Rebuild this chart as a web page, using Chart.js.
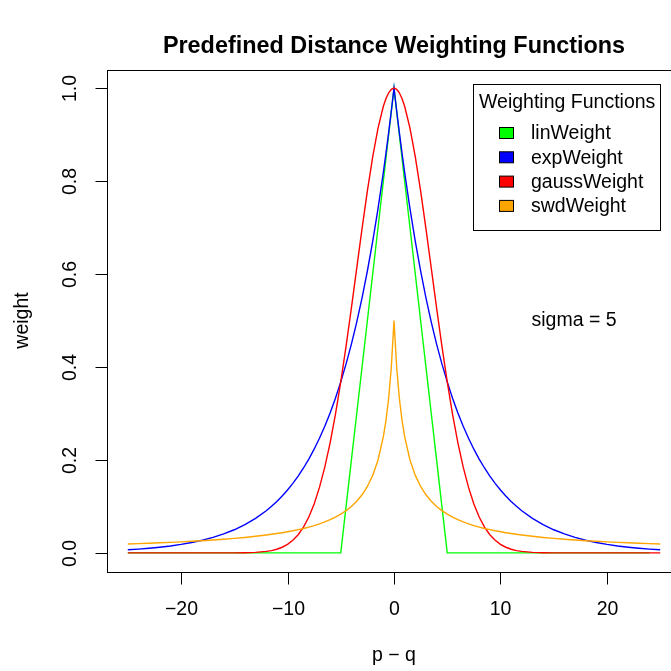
<!DOCTYPE html>
<html>
<head>
<meta charset="utf-8">
<script src="https://cdn.jsdelivr.net/npm/chart.js@4"></script>
<style>
  html, body { margin: 0; padding: 0; background: #fff; overflow: hidden; }
  #wrap { width: 700px; height: 671px; }
</style>
</head>
<body>
<div id="wrap"><canvas id="weightChart" width="700" height="671"></canvas></div>
<script>
// distance p - q
var xs = [-25,-24,-23,-22,-21,-20,-19,-18,-17,-16,-15,-14,-13,-12,-11.5,-11,-10.5,-10,-9.5,-9,-8.5,-8,-7.5,-7,-6.5,-6,-5.5,
  -5,-4.5,-4,-3.5,-3,-2.5,-2,-1.5,-1,-0.75,-0.5,-0.25,0,0.25,0.5,0.75,1,1.5,2,2.5,3,3.5,4,4.5,5,
  5.5,6,6.5,7,7.5,8,8.5,9,9.5,10,10.5,11,11.5,12,13,14,15,16,17,18,19,20,21,22,23,24,25];

var linWeight = [0,0,0,0,0,0,0,0,0,0,0,0,0,0,0,0,0,0,0,0,0,0,0,0,0,0,0,
  0,0.1,0.2,0.3,0.4,0.5,0.6,0.7,0.8,0.85,0.9,0.95,1,0.95,0.9,0.85,0.8,0.7,0.6,0.5,0.4,0.3,0.2,0.1,0,
  0,0,0,0,0,0,0,0,0,0,0,0,0,0,0,0,0,0,0,0,0,0,0,0,0,0];

var expWeight = [0.0067,0.0082,0.0101,0.0123,0.0150,0.0183,0.0224,0.0273,0.0334,0.0408,0.0498,0.0608,0.0743,0.0907,0.1003,0.1108,0.1225,0.1353,0.1496,0.1653,0.1827,0.2019,0.2231,0.2466,0.2725,0.3012,0.3329,
  0.3679,0.4066,0.4493,0.4966,0.5488,0.6065,0.6703,0.7408,0.8187,0.8607,0.9048,0.9512,1,0.9512,0.9048,0.8607,0.8187,0.7408,0.6703,0.6065,0.5488,0.4966,0.4493,0.4066,0.3679,
  0.3329,0.3012,0.2725,0.2466,0.2231,0.2019,0.1827,0.1653,0.1496,0.1353,0.1225,0.1108,0.1003,0.0907,0.0743,0.0608,0.0498,0.0408,0.0334,0.0273,0.0224,0.0183,0.0150,0.0123,0.0101,0.0082,0.0067];

var gaussWeight = [0,0,0,0,0,0,0,0,0,0,0,0.0004,0.0012,0.0032,0.0050,0.0079,0.0122,0.0183,0.0271,0.0392,0.0556,0.0773,0.1054,0.1409,0.1845,0.2369,0.2982,
  0.3679,0.4449,0.5273,0.6126,0.6977,0.7788,0.8521,0.9139,0.9608,0.9778,0.99,0.9975,1,0.9975,0.99,0.9778,0.9608,0.9139,0.8521,0.7788,0.6977,0.6126,0.5273,0.4449,0.3679,
  0.2982,0.2369,0.1845,0.1409,0.1054,0.0773,0.0556,0.0392,0.0271,0.0183,0.0122,0.0079,0.0050,0.0032,0.0012,0.0004,0,0,0,0,0,0,0,0,0,0,0];

var swdWeight = [0.0192,0.02,0.0208,0.0217,0.0227,0.0238,0.025,0.0263,0.0278,0.0294,0.0313,0.0333,0.0357,0.0385,0.04,0.0417,0.0435,0.0455,0.0476,0.05,0.0526,0.0556,0.0588,0.0625,0.0667,0.0714,0.0769,
  0.0833,0.0909,0.1,0.1111,0.125,0.1429,0.1667,0.2,0.25,0.2857,0.3333,0.4,0.5,0.4,0.3333,0.2857,0.25,0.2,0.1667,0.1429,0.125,0.1111,0.1,0.0909,0.0833,
  0.0769,0.0714,0.0667,0.0625,0.0588,0.0556,0.0526,0.05,0.0476,0.0455,0.0435,0.0417,0.04,0.0385,0.0357,0.0333,0.0313,0.0294,0.0278,0.0263,0.025,0.0238,0.0227,0.0217,0.0208,0.02,0.0192];

var seriesNames = ["linWeight", "expWeight", "gaussWeight", "swdWeight"];
var seriesColors = ["#00ff00", "#0000ff", "#ff0000", "#ffa500"];

var xTicks = [-20, -10, 0, 10, 20];
var xTickLabels = ["\u221220", "\u221210", "0", "10", "20"];
var yTicks = [0, 0.2, 0.4, 0.6, 0.8, 1.0];
var yTickLabels = ["0.0", "0.2", "0.4", "0.6", "0.8", "1.0"];

var FONT = '"Liberation Sans", Arial, Helvetica, sans-serif';

function pts(ys) {
  return xs.map(function (x, i) { return { x: x, y: ys[i] }; });
}

// R style axes, box, labels and legend
var baseGraphics = {
  id: 'baseGraphics',
  afterDraw: function (chart) {
    var ctx = chart.ctx;
    var a = chart.chartArea;
    var sx = chart.scales.x, sy = chart.scales.y;
    ctx.save();
    ctx.strokeStyle = '#000';
    ctx.fillStyle = '#000';
    ctx.lineWidth = 1;

    // box
    ctx.strokeRect(Math.round(a.left) + 0.5, Math.round(a.top) + 0.5,
      Math.round(a.right - a.left), Math.round(a.bottom - a.top));

    // x axis ticks
    var by = Math.round(a.bottom) + 0.5;
    ctx.font = '19.5px ' + FONT;
    ctx.textAlign = 'center';
    ctx.textBaseline = 'middle';
    xTicks.forEach(function (v, i) {
      var px = Math.round(sx.getPixelForValue(v)) + 0.5;
      ctx.beginPath();
      ctx.moveTo(px, by);
      ctx.lineTo(px, by + 12);
      ctx.stroke();
      ctx.fillText(xTickLabels[i], px, by + 37);
    });

    // y axis ticks, rotated labels
    var lx = Math.round(a.left) + 0.5;
    yTicks.forEach(function (v, i) {
      var py = Math.round(sy.getPixelForValue(v)) + 0.5;
      ctx.beginPath();
      ctx.moveTo(lx, py);
      ctx.lineTo(lx - 12, py);
      ctx.stroke();
      ctx.save();
      ctx.translate(lx - 37, py);
      ctx.rotate(-Math.PI / 2);
      ctx.fillText(yTickLabels[i], 0, 0);
      ctx.restore();
    });

    // axis titles
    var cx = (a.left + a.right) / 2;
    var cy = (a.top + a.bottom) / 2;
    ctx.fillText("p \u2212 q", cx, 656);
    ctx.save();
    ctx.translate(23, cy);
    ctx.rotate(-Math.PI / 2);
    ctx.fillText("weight", 0, 0);
    ctx.restore();

    // main title
    ctx.font = 'bold 23.4px ' + FONT;
    ctx.fillText("Predefined Distance Weighting Functions", cx, 47);

    // note
    ctx.font = '19.5px ' + FONT;
    ctx.fillText("sigma = 5", 574, 321);

    // legend
    ctx.fillStyle = '#fff';
    ctx.fillRect(473.5, 84.5, 187, 146);
    ctx.strokeRect(473.5, 84.5, 187, 146);
    ctx.fillStyle = '#000';
    ctx.textAlign = 'left';
    ctx.fillText("Weighting Functions", 479, 103);
    seriesNames.forEach(function (name, i) {
      var ry = 133 + i * 24.3;
      ctx.fillStyle = seriesColors[i];
      ctx.fillRect(499.5, ry - 5.5, 14, 11);
      ctx.strokeRect(499.5, ry - 5.5, 14, 11);
      ctx.fillStyle = '#000';
      ctx.fillText(name, 531, ry + 1);
    });
    ctx.restore();
  }
};

var datasets = [linWeight, expWeight, gaussWeight, swdWeight].map(function (ys, i) {
  return {
    label: seriesNames[i],
    data: pts(ys),
    borderColor: seriesColors[i],
    backgroundColor: seriesColors[i],
    borderWidth: 1.4,
    pointRadius: 0,
    tension: 0,
    fill: false,
    order: 4 - i
  };
});

var ctx = document.getElementById('weightChart').getContext('2d');
var myChart = new Chart(ctx, {
  type: 'line',
  data: { datasets: datasets },
  options: {
    responsive: false,
    animation: false,
    events: [],
    layout: { padding: { left: 106.5, top: 69.5, right: 18.5, bottom: 99.5 } },
    plugins: {
      legend: { display: false },
      tooltip: { enabled: false },
      title: { display: false }
    },
    scales: {
      x: { type: 'linear', min: -27, max: 27, display: false },
      y: { type: 'linear', min: -0.04, max: 1.04, display: false }
    }
  },
  plugins: [baseGraphics]
});
</script>
</body>
</html>
